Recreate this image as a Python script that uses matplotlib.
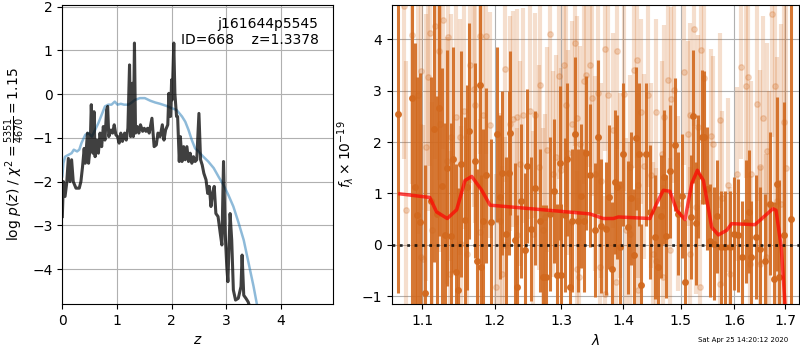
import matplotlib
matplotlib.use("Agg")
import matplotlib.pyplot as plt
from matplotlib.ticker import NullLocator, NullFormatter, FixedLocator, FixedFormatter

# --- p(z) panel ---
z_chi2 = [0.00, 0.02, 0.05, 0.08, 0.11, 0.14, 0.17, 0.20, 0.25, 0.31, 0.34, 0.37,
          0.40, 0.42, 0.46, 0.48, 0.51, 0.53, 0.56, 0.58, 0.60, 0.63, 0.66, 0.69,
          0.72, 0.75, 0.78, 0.81, 0.83, 0.85, 0.89, 0.92, 0.95, 0.98, 1.01, 1.04,
          1.07, 1.10, 1.14, 1.17, 1.20, 1.23, 1.25, 1.28, 1.30, 1.32, 1.34, 1.37,
          1.40, 1.43, 1.47, 1.50, 1.53, 1.56, 1.59, 1.64, 1.68, 1.72, 1.75, 1.79,
          1.83, 1.86, 1.89, 1.93, 1.95, 1.98, 2.00, 2.01, 2.04, 2.06, 2.09, 2.11,
          2.14, 2.16, 2.19, 2.22, 2.25, 2.28, 2.31, 2.34, 2.37, 2.40, 2.43, 2.46,
          2.50, 2.53, 2.56, 2.59, 2.63, 2.66, 2.69, 2.72, 2.75, 2.78, 2.81, 2.85,
          2.89, 2.92, 2.95, 2.98, 3.01, 3.03, 3.07, 3.10, 3.13, 3.17, 3.22, 3.27,
          3.29, 3.32, 3.36, 3.40, 3.43, 3.50]
logp_chi2 = [-2.80, -2.00, -2.34, -2.04, -1.47, -2.00, -1.50, -2.00, -2.15, -2.15, -2.00, -1.66,
             -1.24, -1.58, -0.89, -1.58, -1.20, -0.24, -1.35, -0.40, -1.43, -1.05, -1.35, -0.89,
             -1.20, -0.74, -1.05, -0.36, -0.28, -0.97, -0.82, -0.89, -0.70, -0.93, -0.97, -1.12,
             -0.89, -1.08, -0.89, -1.05, -0.78, 0.67, -0.97, 0.25, -0.97, 1.17, -0.89, -0.74,
             -0.89, -0.70, -0.85, -0.78, -0.85, -0.78, -0.89, -0.55, -1.20, -1.16, -0.89, -0.97,
             -0.70, -1.05, -0.82, -0.70, 0.02, -0.51, 0.33, -0.13, 1.17, 0.02, -0.51, -0.51,
             -1.54, -0.97, -1.54, -1.20, -1.50, -1.20, -1.54, -1.35, -1.58, -1.43, -1.54, -1.50,
             -0.44, -1.50, -1.62, -1.81, -1.96, -2.27, -2.11, -2.57, -2.27, -2.11, -2.73, -2.80,
             -3.18, -3.45, -1.54, -3.18, -3.95, -4.29, -2.73, -3.34, -4.48, -4.71, -4.67, -4.40,
             -3.68, -4.60, -4.67, -4.75, -4.86, -5.20]

z_prior = [0.00, 0.02, 0.05, 0.11, 0.17, 0.21, 0.27, 0.31, 0.35, 0.42, 0.48, 0.54,
           0.60, 0.66, 0.72, 0.78, 0.84, 0.90, 0.96, 1.01, 1.07, 1.13, 1.21, 1.27,
           1.33, 1.42, 1.51, 1.61, 1.70, 1.79, 1.91, 2.00, 2.09, 2.19, 2.25, 2.31,
           2.37, 2.43, 2.49, 2.58, 2.67, 2.77, 2.86, 2.95, 3.04, 3.13, 3.22, 3.32,
           3.41, 3.50, 3.56, 3.62]
logp_prior = [-1.88, -1.58, -1.43, -1.39, -1.35, -1.27, -1.31, -1.27, -1.12, -0.93, -0.89, -0.97,
              -0.82, -0.66, -0.47, -0.28, -0.24, -0.24, -0.17, -0.24, -0.22, -0.24, -0.24, -0.19,
              -0.13, -0.09, -0.09, -0.15, -0.19, -0.22, -0.27, -0.32, -0.36, -0.51, -0.63, -0.82,
              -1.05, -1.24, -1.31, -1.43, -1.54, -1.69, -1.89, -2.08, -2.31, -2.57, -2.92, -3.34,
              -3.87, -4.40, -4.80, -5.30]

# --- spectrum panel: first grism orientation (dark) ---
wave_a = [1.069, 1.087, 1.090, 1.093, 1.097, 1.104, 1.111, 1.116, 1.119, 1.122, 1.127, 1.130,
          1.133, 1.138, 1.141, 1.146, 1.148, 1.153, 1.158, 1.161, 1.164, 1.172, 1.175, 1.179,
          1.181, 1.183, 1.188, 1.195, 1.203, 1.208, 1.211, 1.216, 1.220, 1.222, 1.230, 1.232,
          1.238, 1.245, 1.248, 1.254, 1.260, 1.267, 1.272, 1.276, 1.282, 1.288, 1.293, 1.298,
          1.300, 1.305, 1.309, 1.313, 1.317, 1.322, 1.326, 1.331, 1.335, 1.339, 1.345, 1.353,
          1.358, 1.364, 1.372, 1.377, 1.381, 1.386, 1.390, 1.395, 1.400, 1.408, 1.413, 1.418,
          1.422, 1.427, 1.431, 1.438, 1.446, 1.454, 1.460, 1.465, 1.470, 1.474, 1.481, 1.489,
          1.495, 1.502, 1.508, 1.518, 1.522, 1.527, 1.532, 1.538, 1.542, 1.548, 1.553, 1.561,
          1.567, 1.574, 1.582, 1.591, 1.600, 1.606, 1.615, 1.622, 1.628, 1.633, 1.641, 1.649,
          1.659, 1.669, 1.677, 1.683, 1.688, 1.698, 1.712]
flux_a = [2.55, 2.86, 1.12, 0.57, 0.45, -0.95, 0.86, 2.26, 0.60, 2.67, 1.14, 0.18,
          1.50, 0.17, 1.66, -0.53, -0.89, 1.58, 0.49, 1.12, 2.21, 1.64, -0.32, 3.11,
          -0.44, 0.46, 1.35, 0.45, 2.15, 0.93, 1.40, 0.20, 1.40, 2.18, 0.10, -0.83,
          0.85, -0.11, 1.53, 0.30, 1.11, 0.47, -0.63, -0.62, 0.59, 1.05, -0.60, 1.59,
          -0.60, 0.57, 1.66, -0.83, 0.47, 2.16, 0.47, 0.95, 0.47, 1.79, 1.35, 0.29,
          2.09, 0.36, 0.31, 0.93, -0.47, 1.22, 1.12, -0.05, 1.76, 0.34, 0.90, -0.21,
          2.07, 1.76, -0.79, 1.76, 0.64, 0.15, -0.44, 0.55, 1.32, 0.16, 1.43, 1.95,
          0.60, 0.95, -0.72, 0.54, 2.50, 0.42, 1.33, 2.10, 2.09, 1.09, 0.08, 0.02,
          0.55, -0.05, -0.05, -0.05, 0.21, 0.18, -0.24, 0.45, 0.64, -0.24, 0.15, -0.08,
          -0.31, 0.80, -0.66, 1.18, -0.63, 0.18, 0.50]
err_a = [3.5, 5.0, 2.8, 2.7, 2.9, 2.5, 2.4, 2.6, 2.3, 2.5, 2.3, 2.2,
         2.3, 2.2, 2.2, 2.1, 2.0, 2.2, 2.0, 2.0, 2.1, 1.9, 1.8, 2.0,
         1.8, 1.8, 1.7, 1.6, 1.7, 1.6, 1.6, 1.5, 1.6, 1.6, 1.5, 1.4,
         1.5, 1.5, 1.5, 1.4, 1.5, 1.4, 1.4, 1.4, 1.5, 1.4, 1.4, 1.5,
         1.4, 1.5, 1.5, 1.3, 1.4, 1.5, 1.4, 1.4, 1.4, 1.5, 1.4, 1.3,
         1.5, 1.3, 1.3, 1.4, 1.3, 1.4, 1.4, 1.3, 1.4, 1.3, 1.3, 1.3,
         1.4, 1.4, 1.2, 1.4, 1.3, 1.2, 1.2, 1.2, 1.3, 1.2, 1.3, 1.3,
         1.2, 1.2, 1.2, 1.2, 1.3, 1.2, 1.2, 1.3, 1.3, 1.2, 1.1, 1.1,
         1.1, 1.1, 1.1, 1.1, 1.1, 1.1, 1.1, 1.2, 1.2, 1.1, 1.2, 1.2,
         1.3, 1.4, 1.5, 1.7, 1.9, 2.6, 6.0]

# --- spectrum panel: second grism orientation (light) ---
wave_b = [1.076, 1.079, 1.086, 1.095, 1.098, 1.099, 1.101, 1.105, 1.108, 1.110, 1.113, 1.117,
          1.122, 1.124, 1.128, 1.133, 1.135, 1.137, 1.139, 1.146, 1.151, 1.153, 1.156, 1.161,
          1.165, 1.170, 1.172, 1.179, 1.179, 1.183, 1.187, 1.193, 1.202, 1.208, 1.211, 1.215,
          1.215, 1.222, 1.227, 1.232, 1.233, 1.237, 1.241, 1.252, 1.257, 1.260, 1.265, 1.267,
          1.272, 1.275, 1.278, 1.282, 1.287, 1.292, 1.296, 1.300, 1.304, 1.307, 1.311, 1.317,
          1.321, 1.325, 1.325, 1.328, 1.330, 1.335, 1.339, 1.346, 1.349, 1.353, 1.358, 1.361,
          1.364, 1.369, 1.370, 1.374, 1.383, 1.388, 1.389, 1.394, 1.401, 1.405, 1.411, 1.411,
          1.418, 1.423, 1.425, 1.425, 1.431, 1.436, 1.442, 1.448, 1.451, 1.457, 1.457, 1.466,
          1.469, 1.470, 1.478, 1.481, 1.483, 1.488, 1.495, 1.506, 1.513, 1.517, 1.517, 1.524,
          1.528, 1.532, 1.535, 1.537, 1.542, 1.556, 1.559, 1.572, 1.572, 1.577, 1.588, 1.591,
          1.604, 1.613, 1.623, 1.626, 1.630, 1.633, 1.644, 1.649, 1.649, 1.656, 1.662, 1.664,
          1.668, 1.674, 1.679, 1.683, 1.692, 1.697, 1.703]
flux_b = [4.66, 0.67, 4.08, 2.91, -0.24, 3.38, -0.27, 1.90, 3.26, 4.13, 0.28, 4.27,
          3.77, 2.36, 4.37, 1.64, 4.05, -0.57, 2.09, 2.49, 2.10, 0.02, 2.60, -0.19,
          3.51, 3.04, 2.73, 4.06, 0.25, 2.53, 4.06, 2.33, -0.83, 0.46, -0.57, 3.43,
          -0.01, 2.36, 2.45, 0.18, 2.49, 1.58, 2.52, 2.60, 0.21, 2.52, 1.51, 3.12,
          0.28, 0.54, 1.85, 4.11, 1.38, 1.70, 3.28, 1.45, 3.50, 2.73, 1.79, 2.36,
          3.92, 2.46, -0.47, -0.63, 1.97, 3.19, 3.30, 3.51, 2.85, 1.38, 2.96, -0.44,
          1.25, -0.96, 3.82, 2.91, 2.23, -0.73, 3.77, 1.16, 2.94, 0.28, 1.51, 0.21,
          3.40, 3.59, 1.16, -0.89, 2.59, 1.53, 2.92, 1.35, -0.18, 2.59, -0.31, 1.77,
          -0.63, 2.49, 3.20, -0.11, 2.83, 3.01, 0.80, 3.36, 2.16, 2.52, -0.18, 4.21,
          0.73, 2.29, -0.83, 3.79, 3.25, 2.11, 1.97, 2.42, -0.76, 0.90, 1.16, -0.57,
          1.38, 3.46, 3.09, 3.26, -0.37, 1.38, 2.75, 1.51, -0.37, 2.46, -0.24, 1.82,
          0.80, 4.50, 3.09, 0.86, 0.80, 2.40, 1.50]
err_b = [3.0, 2.9, 2.9, 2.7, 2.6, 2.7, 2.6, 2.6, 2.6, 2.6, 2.5, 2.6,
         2.5, 2.5, 2.5, 2.4, 2.5, 2.4, 2.4, 2.4, 2.3, 2.3, 2.3, 2.3,
         2.3, 2.3, 2.3, 2.3, 2.2, 2.2, 2.3, 2.2, 2.2, 2.1, 2.1, 2.2,
         2.1, 2.1, 2.1, 2.1, 2.1, 2.0, 2.1, 2.1, 2.0, 2.0, 2.0, 2.1,
         2.0, 2.0, 2.0, 2.1, 2.0, 2.0, 2.0, 2.0, 2.0, 2.0, 2.0, 2.0,
         2.0, 2.0, 1.9, 1.9, 1.9, 2.0, 2.0, 2.0, 1.9, 1.9, 1.9, 1.9,
         1.9, 1.9, 2.0, 1.9, 1.9, 1.8, 1.9, 1.8, 1.9, 1.8, 1.8, 1.8,
         1.9, 1.9, 1.8, 1.8, 1.8, 1.8, 1.8, 1.8, 1.8, 1.8, 1.8, 1.8,
         1.8, 1.8, 1.8, 1.8, 1.8, 1.8, 1.7, 1.8, 1.8, 1.8, 1.7, 1.9,
         1.7, 1.8, 1.7, 1.8, 1.8, 1.7, 1.7, 1.7, 1.7, 1.7, 1.7, 1.7,
         1.7, 1.8, 1.8, 1.8, 1.7, 1.8, 1.9, 1.9, 1.9, 2.0, 2.0, 2.1,
         2.2, 2.4, 2.6, 2.8, 3.5, 4.5, 5.0]

# --- best-fit model ---
wave_model = [1.071, 1.110, 1.119, 1.1335, 1.1464, 1.1579, 1.1673, 1.1814, 1.1933, 1.3452,
              1.3670, 1.3836, 1.3919, 1.4456, 1.4573, 1.4690, 1.4808, 1.4928, 1.5078, 1.5200,
              1.5303, 1.5414, 1.5569, 1.5694, 1.5851, 1.5946, 1.6398, 1.6755, 1.6818, 1.6924,
              1.7000, 1.7030]
flux_model = [0.99, 0.92, 0.64, 0.51, 0.68, 1.25, 1.33, 1.06, 0.77, 0.60,
              0.51, 0.51, 0.54, 0.51, 0.80, 1.06, 1.04, 0.67, 0.49, 1.19,
              1.45, 1.25, 0.34, 0.19, 0.28, 0.41, 0.39, 0.70, 0.67, -0.05,
              -1.15, -2.0]

lam_ticks = [1.1, 1.2, 1.3, 1.4, 1.5, 1.6, 1.7]
spec_color = "#d2691e"

fig = plt.figure(figsize=(8, 3.5), dpi=100)
ax1 = fig.add_axes([0.0779, 0.1314, 0.3388, 0.8543])
ax2 = fig.add_axes([0.4896, 0.1314, 0.5095, 0.8543])

ax1.plot(z_prior, logp_prior, color="tab:blue", alpha=0.5, lw=1.8)
ax1.plot(z_chi2, logp_chi2, color="k", alpha=0.75, lw=2.2)
ax1.set_xlim(0, 4.96)
ax1.set_ylim(-4.8, 2.04)
ax1.set_xticks([0, 1, 2, 3, 4])
ax1.set_yticks([-4, -3, -2, -1, 0, 1, 2])
ax1.grid()
ax1.set_xlabel("$z$")
ax1.set_ylabel(r"log $p(z)$ / $\chi^2=\frac{5351}{4670}=1.15$")
ax1.text(0.945, 0.96, "j161644p5545\nID=668    z=1.3378", transform=ax1.transAxes,
         ha="right", va="top", fontsize=10)

ax2.errorbar(wave_b, flux_b, yerr=err_b, fmt="o", color=spec_color, alpha=0.22,
             ms=4, elinewidth=3, capsize=0)
ax2.errorbar(wave_a, flux_a, yerr=err_a, fmt="o", color=spec_color, alpha=0.9,
             ms=4, elinewidth=2.2, capsize=0)
ax2.plot(wave_model, flux_model, color="red", alpha=0.7, lw=2.5, zorder=10)
ax2.axhline(0, color="k", ls=":", lw=2, alpha=0.8, zorder=11)
ax2.set_xscale("log")
ax2.set_xlim(1.0604, 1.7294)
ax2.set_ylim(-1.156, 4.67)
ax2.xaxis.set_major_locator(FixedLocator(lam_ticks))
ax2.xaxis.set_major_formatter(FixedFormatter([f"{t:.1f}" for t in lam_ticks]))
ax2.xaxis.set_minor_locator(NullLocator())
ax2.xaxis.set_minor_formatter(NullFormatter())
ax2.set_yticks([-1, 0, 1, 2, 3, 4])
ax2.grid()
ax2.set_xlabel(r"$\lambda$")
ax2.set_ylabel(r"$f_\lambda\times10^{-19}$")

fig.text(0.985, 0.029, "Sat Apr 25 14:20:12 2020", ha="right", va="center", fontsize=5)

fig.savefig("out.png", dpi=100)
